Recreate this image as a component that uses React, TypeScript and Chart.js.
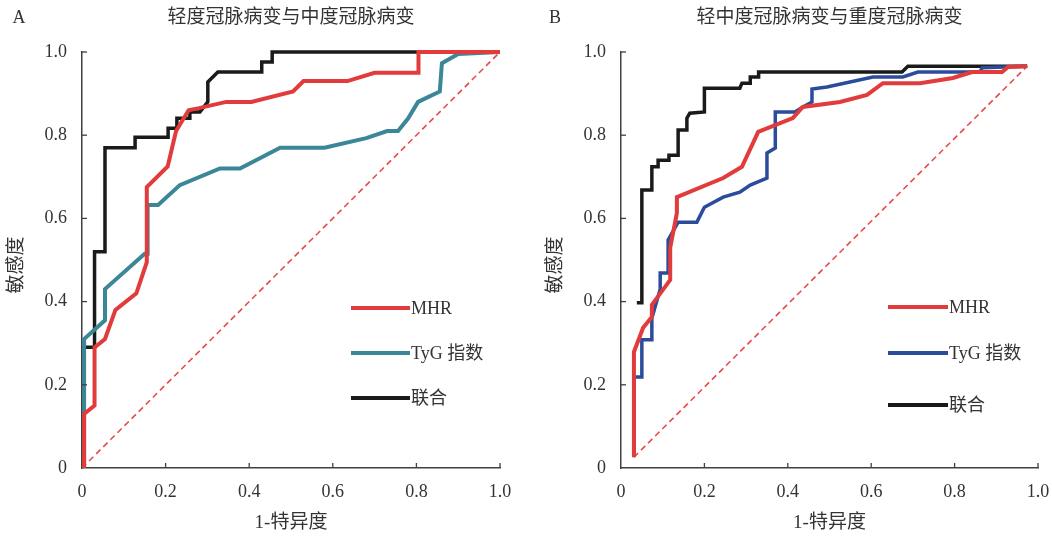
import React, { useEffect, useRef } from 'react';
import { Chart, registerables } from 'chart.js';
Chart.register(...registerables);

const FONT = "'Liberation Serif', 'Noto Sans CJK SC', serif";
const TEXT = '#333333';

const tickLabels = ['0', '0.2', '0.4', '0.6', '0.8', '1.0'];
const seriesNames = ['MHR', 'TyG 指数', '联合'];

// Panel A: 轻度 vs 中度
const aMhrX = [0.005, 0.005, 0.03, 0.03, 0.055, 0.08, 0.13, 0.155, 0.155, 0.205, 0.225, 0.255, 0.28, 0.345, 0.405, 0.505, 0.53, 0.635, 0.70, 0.805, 0.805, 1.0];
const aMhrY = [0, 0.13, 0.15, 0.29, 0.31, 0.38, 0.42, 0.495, 0.675, 0.725, 0.81, 0.86, 0.865, 0.88, 0.88, 0.905, 0.93, 0.93, 0.95, 0.95, 1.0, 1.0];
const aTygX = [0.005, 0.005, 0.055, 0.055, 0.15, 0.157, 0.157, 0.182, 0.234, 0.33, 0.378, 0.474, 0.58, 0.68, 0.73, 0.756, 0.78, 0.804, 0.856, 0.861, 0.90, 1.0];
const aTygY = [0, 0.31, 0.355, 0.43, 0.515, 0.515, 0.632, 0.632, 0.68, 0.72, 0.72, 0.77, 0.77, 0.793, 0.81, 0.81, 0.84, 0.88, 0.905, 0.973, 0.995, 1.0];
const aComboX = [0.005, 0.005, 0.03, 0.03, 0.055, 0.055, 0.127, 0.127, 0.206, 0.206, 0.227, 0.227, 0.258, 0.258, 0.282, 0.301, 0.301, 0.325, 0.43, 0.43, 0.455, 0.455, 1.0];
const aComboY = [0, 0.29, 0.29, 0.52, 0.52, 0.77, 0.77, 0.795, 0.795, 0.817, 0.817, 0.841, 0.841, 0.856, 0.856, 0.88, 0.928, 0.952, 0.952, 0.976, 0.976, 1.0, 1.0];
const aDiagX = [0, 1];
const aDiagY = [0, 1];

// Panel B: 轻中度 vs 重度
const bMhrX = [0.031, 0.031, 0.053, 0.074, 0.074, 0.118, 0.118, 0.134, 0.134, 0.245, 0.29, 0.329, 0.412, 0.436, 0.525, 0.59, 0.628, 0.717, 0.796, 0.842, 0.914, 0.928, 0.974];
const bMhrY = [0.026, 0.279, 0.337, 0.363, 0.392, 0.452, 0.529, 0.613, 0.651, 0.697, 0.724, 0.808, 0.841, 0.868, 0.88, 0.897, 0.925, 0.925, 0.9375, 0.952, 0.952, 0.964, 0.966];
const bTygX = [0.031, 0.031, 0.05, 0.05, 0.074, 0.074, 0.094, 0.094, 0.113, 0.113, 0.137, 0.182, 0.2, 0.245, 0.285, 0.31, 0.35, 0.35, 0.37, 0.37, 0.417, 0.436, 0.458, 0.458, 0.494, 0.604, 0.676, 0.712, 0.861, 0.866, 0.974];
const bTygY = [0.03, 0.219, 0.219, 0.308, 0.308, 0.36, 0.43, 0.469, 0.469, 0.548, 0.591, 0.591, 0.627, 0.651, 0.663, 0.68, 0.697, 0.757, 0.769, 0.856, 0.856, 0.868, 0.88, 0.911, 0.916, 0.94, 0.94, 0.952, 0.952, 0.962, 0.966];
const bComboX = [0.038, 0.05, 0.05, 0.074, 0.074, 0.089, 0.089, 0.115, 0.115, 0.137, 0.137, 0.158, 0.158, 0.165, 0.2, 0.2, 0.285, 0.29, 0.31, 0.31, 0.33, 0.33, 0.674, 0.688, 0.974];
const bComboY = [0.397, 0.397, 0.668, 0.668, 0.724, 0.724, 0.74, 0.74, 0.752, 0.752, 0.8125, 0.8125, 0.841, 0.853, 0.856, 0.913, 0.913, 0.925, 0.925, 0.94, 0.94, 0.952, 0.952, 0.966, 0.966];
const bDiagX = [0.031, 0.974];
const bDiagY = [0.026, 0.966];

const pts = (xs: number[], ys: number[]) => xs.map((x, i) => ({ x, y: ys[i] }));

const panelPlugin = {
  id: 'panelText',
  afterDraw(chart: any, _args: any, opts: any) {
    const { ctx, chartArea: ca } = chart;
    const xs = chart.scales.x;
    const ys = chart.scales.y;
    ctx.save();
    // inner ticks
    ctx.strokeStyle = '#404040';
    ctx.lineWidth = 1.3;
    xs.ticks.forEach((t: any) => {
      if (t.value <= 0) return;
      const px = xs.getPixelForValue(t.value);
      ctx.beginPath();
      ctx.moveTo(px, ca.bottom);
      ctx.lineTo(px, ca.bottom - 5);
      ctx.stroke();
    });
    ys.ticks.forEach((t: any) => {
      if (t.value <= 0) return;
      const py = ys.getPixelForValue(t.value);
      ctx.beginPath();
      ctx.moveTo(ca.left, py);
      ctx.lineTo(ca.left + 5, py);
      ctx.stroke();
    });
    // texts
    ctx.fillStyle = TEXT;
    ctx.textBaseline = 'middle';
    ctx.textAlign = 'center';
    ctx.font = `18px ${FONT}`;
    ctx.fillText(opts.letter, ca.left - opts.letterOff, 18);
    ctx.font = `19px ${FONT}`;
    const cx = (ca.left + ca.right) / 2;
    ctx.fillText(opts.title, cx, 18);
    ctx.fillText('1-特异度', cx, 523);
    ctx.save();
    ctx.translate(ca.left - opts.yTitleOff, 265);
    ctx.rotate(-Math.PI / 2);
    ctx.fillText('敏感度', 0, 0);
    ctx.restore();
    // legend
    ctx.font = `18px ${FONT}`;
    ctx.textAlign = 'left';
    opts.legendYs.forEach((ly: number, i: number) => {
      const ds = chart.data.datasets[i];
      ctx.strokeStyle = ds.borderColor;
      ctx.lineWidth = 4;
      ctx.beginPath();
      ctx.moveTo(ca.left + opts.legendX0, ly);
      ctx.lineTo(ca.left + opts.legendX1, ly);
      ctx.stroke();
      ctx.fillText(ds.label, ca.left + opts.legendX1 + 1, ly + 1);
    });
    ctx.restore();
  },
};

function makeConfig(p: any): any {
  const mk = (label: string, xs: number[], ys: number[], color: string, w: number) => ({
    label,
    data: pts(xs, ys),
    borderColor: color,
    backgroundColor: color,
    borderWidth: w,
    pointRadius: 0,
    tension: 0,
    fill: false,
    clip: 6,
    borderJoinStyle: 'miter',
  });
  const zeroPad = (s: any) => {
    s.paddingLeft = 0;
    s.paddingRight = 0;
    s.paddingTop = 0;
    s.paddingBottom = 0;
  };
  return {
    type: 'line',
    data: {
      datasets: [
        mk(seriesNames[0], p.mhr[0], p.mhr[1], '#e23b3b', 4),
        mk(seriesNames[1], p.tyg[0], p.tyg[1], p.tygColor, p.tygW),
        mk(seriesNames[2], p.combo[0], p.combo[1], '#1a1a1a', 3.5),
        { ...mk('diag', p.diag[0], p.diag[1], '#e8494b', 1.6), borderDash: [6, 4], clip: 0 },
      ],
    },
    options: {
      animation: false,
      responsive: true,
      maintainAspectRatio: false,
      events: [],
      layout: { padding: { left: 0, top: 52, right: p.padRight, bottom: 0 } },
      plugins: {
        legend: { display: false },
        tooltip: { enabled: false },
        title: { display: false },
        panelText: {
          letter: p.letter,
          title: p.title,
          letterOff: p.letterOff,
          yTitleOff: p.yTitleOff,
          legendX0: p.legendX0,
          legendX1: p.legendX1,
          legendYs: p.legendYs,
        },
      },
      scales: {
        x: {
          type: 'linear',
          min: 0,
          max: 1,
          afterFit: (s: any) => { s.height = 69; zeroPad(s); },
          grid: { display: true, drawOnChartArea: false, drawTicks: false },
          border: { display: true, color: '#404040', width: 1.5 },
          ticks: {
            stepSize: 0.2,
            padding: 13,
            color: TEXT,
            font: { family: FONT, size: 18 },
            maxRotation: 0,
            callback: (_v: any, i: number) => tickLabels[i],
          },
        },
        y: {
          type: 'linear',
          min: 0,
          max: 1,
          afterFit: (s: any) => { s.width = p.yWidth; zeroPad(s); },
          grid: { display: true, drawOnChartArea: false, drawTicks: false },
          border: { display: true, color: '#404040', width: 1.5 },
          ticks: {
            stepSize: 0.2,
            padding: 15,
            color: TEXT,
            font: { family: FONT, size: 18 },
            callback: (_v: any, i: number) => tickLabels[i],
          },
        },
      },
    },
    plugins: [panelPlugin],
  };
}

function Panel({ cfg, left }: { cfg: any; left: number }) {
  const ref = useRef<HTMLCanvasElement | null>(null);
  useEffect(() => {
    if (!ref.current) return;
    const chart = new Chart(ref.current, makeConfig(cfg));
    return () => chart.destroy();
  }, []);
  return (
    <div style={{ position: 'absolute', left, top: 0, width: 526, height: 537 }}>
      <canvas ref={ref} />
    </div>
  );
}

const panelA = {
  letter: 'A',
  title: '轻度冠脉病变与中度冠脉病变',
  mhr: [aMhrX, aMhrY],
  tyg: [aTygX, aTygY],
  combo: [aComboX, aComboY],
  diag: [aDiagX, aDiagY],
  tygColor: '#3b8797',
  tygW: 4,
  yWidth: 82,
  padRight: 26,
  letterOff: 63,
  yTitleOff: 65,
  legendX0: 269,
  legendX1: 328,
  legendYs: [308, 353, 398],
};

const panelB = {
  letter: 'B',
  title: '轻中度冠脉病变与重度冠脉病变',
  mhr: [bMhrX, bMhrY],
  tyg: [bTygX, bTygY],
  combo: [bComboX, bComboY],
  diag: [bDiagX, bDiagY],
  tygColor: '#2b4b9b',
  tygW: 3.5,
  yWidth: 95,
  padRight: 14,
  letterOff: 66,
  yTitleOff: 65,
  legendX0: 267,
  legendX1: 327,
  legendYs: [307, 353, 405],
};

export default function App() {
  return (
    <div style={{ position: 'absolute', left: 0, top: 0, width: 1052, height: 537, background: '#fff' }}>
      <Panel cfg={panelA} left={0} />
      <Panel cfg={panelB} left={526} />
    </div>
  );
}
